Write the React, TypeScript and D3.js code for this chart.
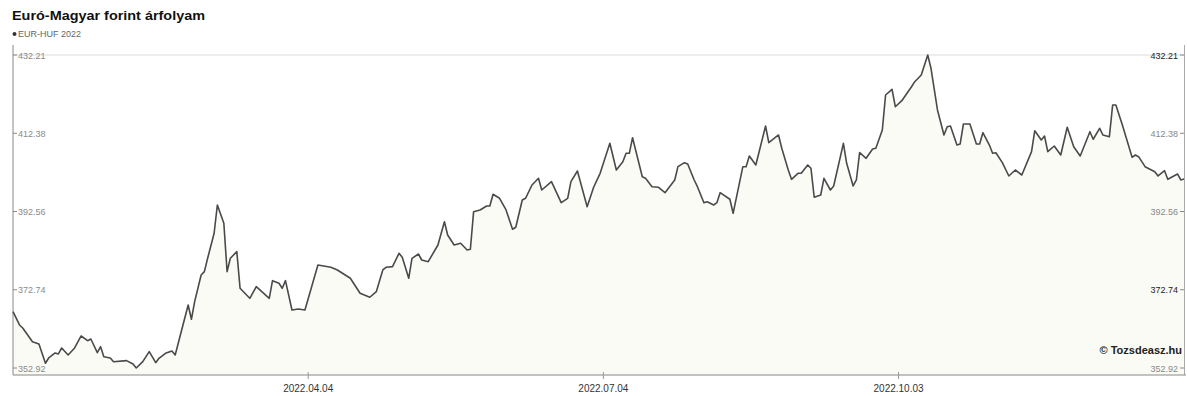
import React from "react";
import * as d3 from "d3";

const dates = [
  "2022-01-03","2022-01-05","2022-01-06","2022-01-09","2022-01-11","2022-01-13","2022-01-14","2022-01-16",
  "2022-01-17","2022-01-18","2022-01-20","2022-01-22","2022-01-24","2022-01-26","2022-01-27","2022-01-29",
  "2022-01-30","2022-01-31","2022-02-02","2022-02-03","2022-02-07","2022-02-09","2022-02-10","2022-02-12",
  "2022-02-14","2022-02-16","2022-02-17","2022-02-19","2022-02-21","2022-02-22","2022-02-24","2022-02-26",
  "2022-02-27","2022-02-28","2022-03-02","2022-03-03","2022-03-04","2022-03-06","2022-03-07","2022-03-09",
  "2022-03-10","2022-03-11","2022-03-13","2022-03-14","2022-03-17","2022-03-19","2022-03-23","2022-03-24",
  "2022-03-26","2022-03-27","2022-03-28","2022-03-30","2022-04-01","2022-04-03","2022-04-07","2022-04-11",
  "2022-04-13","2022-04-17","2022-04-20","2022-04-23","2022-04-25","2022-04-27","2022-04-28","2022-04-30",
  "2022-05-02","2022-05-03","2022-05-05","2022-05-06","2022-05-08","2022-05-09","2022-05-11","2022-05-14",
  "2022-05-16","2022-05-17","2022-05-19","2022-05-21","2022-05-23","2022-05-24","2022-05-25","2022-05-27",
  "2022-05-29","2022-05-30","2022-05-31","2022-06-02","2022-06-04","2022-06-06","2022-06-07","2022-06-09",
  "2022-06-10","2022-06-12","2022-06-14","2022-06-15","2022-06-18","2022-06-21","2022-06-23","2022-06-24",
  "2022-06-26","2022-06-29","2022-07-01","2022-07-03","2022-07-06","2022-07-08","2022-07-10","2022-07-11",
  "2022-07-12","2022-07-13","2022-07-16","2022-07-17","2022-07-19","2022-07-21","2022-07-23","2022-07-26",
  "2022-07-27","2022-07-29","2022-07-30","2022-08-01","2022-08-02","2022-08-04","2022-08-05","2022-08-07",
  "2022-08-08","2022-08-09","2022-08-12","2022-08-13","2022-08-16","2022-08-17","2022-08-18","2022-08-20",
  "2022-08-23","2022-08-24","2022-08-27","2022-08-28","2022-08-30","2022-08-31","2022-09-02","2022-09-03",
  "2022-09-05","2022-09-06","2022-09-07","2022-09-09","2022-09-10","2022-09-12","2022-09-13","2022-09-16",
  "2022-09-17","2022-09-19","2022-09-20","2022-09-21","2022-09-23","2022-09-25","2022-09-26","2022-09-28",
  "2022-09-29","2022-10-01","2022-10-02","2022-10-04","2022-10-07","2022-10-08","2022-10-10","2022-10-12",
  "2022-10-13","2022-10-15","2022-10-17","2022-10-18","2022-10-19","2022-10-21","2022-10-22","2022-10-23",
  "2022-10-25","2022-10-27","2022-10-28","2022-10-29","2022-10-31","2022-11-01","2022-11-02","2022-11-04",
  "2022-11-06","2022-11-08","2022-11-10","2022-11-13","2022-11-14","2022-11-16","2022-11-17","2022-11-18",
  "2022-11-20","2022-11-22","2022-11-24","2022-11-26","2022-11-28","2022-12-01","2022-12-02","2022-12-04",
  "2022-12-05","2022-12-07","2022-12-08","2022-12-09","2022-12-11","2022-12-14","2022-12-15","2022-12-16",
  "2022-12-18","2022-12-21","2022-12-22","2022-12-24","2022-12-25","2022-12-28","2022-12-29","2022-12-30",
];

const eurHuf = [
  367.19,363.82,363.06,359.59,359.01,354.12,355.46,356.73,
  356.48,357.99,356.22,357.99,361.03,359.84,360.27,356.80,
  358.32,355.79,355.46,354.52,354.78,353.94,352.92,354.52,
  357.06,354.27,355.38,356.65,357.23,356.22,362.55,368.88,
  365.26,369.72,376.48,377.32,380.71,387.05,394.21,389.58,
  377.32,380.71,382.39,373.11,370.58,373.52,370.58,375.04,
  374.38,373.11,375.04,367.62,367.87,367.62,379.02,378.43,
  377.75,375.65,371.85,370.84,372.25,377.75,378.43,378.59,
  381.98,380.97,375.65,380.71,381.80,380.28,379.85,384.08,
  389.98,386.62,384.08,384.51,382.82,382.99,392.52,392.95,
  393.96,393.96,396.93,395.91,392.95,388.06,388.57,395.48,
  395.91,399.28,400.98,398.01,400.12,394.80,395.91,400.12,
  402.83,393.78,398.70,402.24,409.84,403.08,405.18,407.31,
  407.31,411.26,401.38,400.98,398.85,398.70,397.33,400.55,
  403.92,404.93,404.60,400.55,398.85,394.80,395.05,394.21,
  394.80,397.33,395.66,392.11,403.92,403.92,406.63,404.35,
  414.23,410.00,411.95,408.58,403.08,400.72,402.24,402.24,
  404.35,403.51,396.17,396.75,400.98,398.01,399.03,409.84,
  404.78,399.03,400.55,407.51,406.04,408.40,408.58,413.21,
  422.08,423.52,419.11,420.63,424.18,425.45,427.14,432.21,
  428.84,418.28,411.95,414.05,414.23,409.41,409.67,414.73,
  414.73,409.67,409.67,412.53,409.41,407.31,407.46,404.93,
  401.56,403.08,401.81,407.72,413.03,410.68,411.69,407.72,
  409.16,406.88,413.90,408.98,406.63,412.78,410.86,413.64,
  411.95,411.52,419.54,419.54,414.48,406.30,406.88,406.45,
  403.92,402.65,401.56,402.90,400.72,402.07,400.55,400.80,
];

const yTicks = [352.92, 372.74, 392.56, 412.38, 432.21];
const xTickDates = ["2022-04-04", "2022-07-04", "2022-10-03"];
const xTickLabels = ["2022.04.04", "2022.07.04", "2022.10.03"];
const title = "Euró-Magyar forint árfolyam";
const seriesName = "EUR-HUF 2022";
const credit = "© Tozsdeasz.hu";

const W = 1187;
const H = 396;
const LEFT = 13;
const RIGHT = 1184;
const TOP = 55;
const BOTTOM = 375;
const Y_LOW = 368;

export default function App() {
  const parse = d3.timeParse("%Y-%m-%d");
  const pts = dates.map((d, i) => ({ date: parse(d) as Date, v: eurHuf[i] }));
  const x = d3
    .scaleTime()
    .domain([pts[0].date, pts[pts.length - 1].date])
    .range([LEFT, RIGHT]);
  const y = d3
    .scaleLinear()
    .domain([yTicks[0], yTicks[yTicks.length - 1]])
    .range([Y_LOW, TOP]);

  const line = d3
    .line<{ date: Date; v: number }>()
    .x((d) => x(d.date))
    .y((d) => y(d.v));
  const area = d3
    .area<{ date: Date; v: number }>()
    .x((d) => x(d.date))
    .y0(BOTTOM)
    .y1((d) => y(d.v));

  const font = "'Liberation Sans', Arial, sans-serif";

  return (
    <svg
      width={W}
      height={H}
      style={{ position: "absolute", left: 0, top: 0, background: "#fff" }}
      fontFamily={font}
    >
      <text x={12} y={20} fontSize={13} fontWeight="bold" fill="#111" textLength={193} lengthAdjust="spacingAndGlyphs">
        {title}
      </text>
      <circle cx={14.5} cy={34} r={2} fill="#333" />
      <text x={18} y={37} fontSize={9} fill="#666">
        {seriesName}
      </text>

      {/* area fill */}
      <path d={area(pts) || ""} fill="#fbfbf5" stroke="none" />

      {/* top grid line */}
      <line x1={LEFT} x2={RIGHT} y1={y(yTicks[4])} y2={y(yTicks[4])} stroke="#dcdcdc" strokeWidth={1} />

      {/* axes */}
      <line x1={LEFT} x2={LEFT} y1={45} y2={BOTTOM} stroke="#888" strokeWidth={1} />
      <line x1={RIGHT + 0.5} x2={RIGHT + 0.5} y1={45} y2={BOTTOM} stroke="#aaa" strokeWidth={1} />
      <line x1={LEFT} x2={RIGHT + 2} y1={BOTTOM} y2={BOTTOM} stroke="#888" strokeWidth={1.2} />

      {/* y ticks left & right */}
      {yTicks.map((t, i) => (
        <g key={"yt" + i}>
          <line x1={LEFT} x2={LEFT + 4} y1={y(t)} y2={y(t)} stroke="#888" />
          <text x={LEFT + 5} y={y(t) + 3.5} fontSize={9} fill="#8a8a8a">
            {t.toFixed(2)}
          </text>
          <line x1={RIGHT - 4} x2={RIGHT} y1={y(t)} y2={y(t)} stroke="#888" />
          <text
            x={RIGHT - 6}
            y={y(t) + 3.5}
            fontSize={9}
            textAnchor="end"
            fill={i === 1 || i === 4 ? "#222" : "#888"}
          >
            {t.toFixed(2)}
          </text>
        </g>
      ))}

      {/* x ticks */}
      {xTickDates.map((d, i) => {
        const xx = x(parse(d) as Date);
        return (
          <g key={"xt" + i}>
            <line x1={xx} x2={xx} y1={BOTTOM - 3} y2={BOTTOM + 4} stroke="#999" />
            <text x={xx} y={392} fontSize={10} textAnchor="middle" fill="#333">
              {xTickLabels[i]}
            </text>
          </g>
        );
      })}

      {/* line */}
      <path d={line(pts) || ""} fill="none" stroke="#4a4a4a" strokeWidth={1.6} strokeLinejoin="round" />

      <text x={1182} y={354} fontSize={11} fontWeight="bold" textAnchor="end" fill="#222">
        {credit}
      </text>
    </svg>
  );
}
